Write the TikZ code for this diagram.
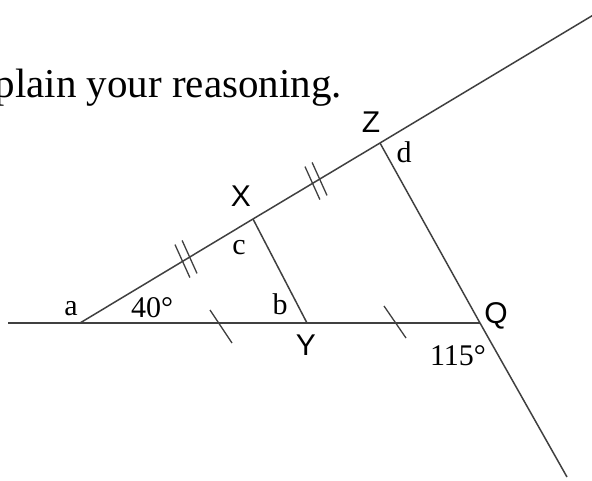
\documentclass[tikz,border=0pt]{standalone}
\usepackage{fontspec}
\setmainfont{Liberation Serif}
\newfontfamily\labelsans{Liberation Sans}
\usepackage{tikz}

\begin{document}
\begin{tikzpicture}[x=1pt,y=-1pt,
    seg/.style={black!75, line width=1.5pt},
    tick/.style={black!75, line width=1.3pt},
    small/.style={inner sep=0pt, font=\fontsize{30}{30}\selectfont},
    vname/.style={inner sep=0pt, font=\labelsans\fontsize{30}{30}\selectfont}]
      \useasboundingbox (0,0) rectangle (592,480);

      % question text, cut at the left edge
      \node[anchor=base east, inner sep=0pt, font=\fontsize{41}{41}\selectfont] (reason) at (342,97) {plain your reasoning.};

      % points
      \coordinate (L) at (8,323);
      \coordinate (A) at (80,323);
      \coordinate (Y) at (307,323);
      \coordinate (Q) at (480,323);
      \coordinate (X) at (253,219);
      \coordinate (Z) at (380,143);
      \coordinate (T) at (600,11);
      \coordinate (B) at (567,477);

      % lines
      \draw[seg] (L) -- (A) -- (Y) -- (Q);
      \draw[seg] (A) -- (X) -- (Z) -- (T);
      \draw[seg] (X) -- (Y);
      \draw[seg] (Z) -- (Q) -- (B);

      % single ticks
      \draw[tick] (210,310) -- (232,343);
      \draw[tick] (384,306) -- (406,338);

      % double ticks
      \foreach \c in {(186,259),(316,181)} {
        \draw[tick, shift={\c}] (-11,-14.4) -- (3.9,18.6);
        \draw[tick, shift={\c}] (-3.9,-18.6) -- (11,14.4);
      }

      % angle labels
      \node[small] (la) at (71,309) {a};
      \node[small] (l40) at (152,308) {40°};
      \node[small] (lc) at (239,248) {c};
      \node[small] (lb) at (280,304) {b};
      \node[small] (ld) at (404,152) {d};
      \node[small] (l115) at (458,356) {115°};

      % vertex names
      \node[vname] (nX) at (241,196) {X};
      \node[vname] (nY) at (306,345) {Y};
      \node[vname] (nZ) at (371,122) {Z};
      \node[vname] (nQ) at (496,316) {Q};
    \end{tikzpicture}
\end{document}
